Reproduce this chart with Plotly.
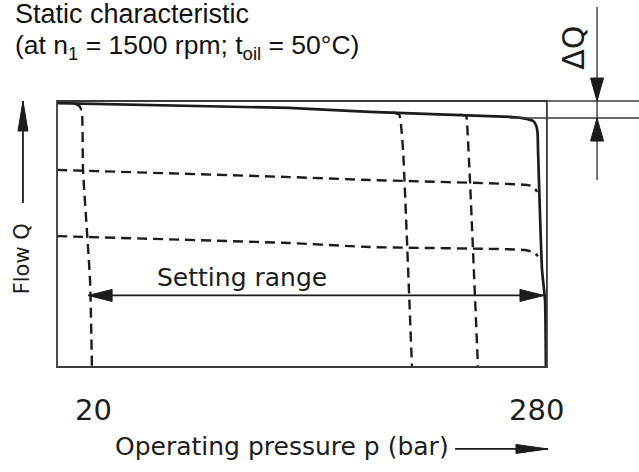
import plotly.graph_objects as go

# Axis ranges: pressure p in bar (x), flow Q in % of maximum (y)
X_RANGE = [-32.65, 333.33]
Y_RANGE = [-39.47, 137.97]

TITLE_LINE_1 = "Static characteristic"
TITLE_LINE_2 = "(at n<sub>1</sub> = 1500 rpm; t<sub>oil</sub> = 50°C)"
X_TICK_VALUES = [20, 280]
X_TICK_LABELS = ["20", "280"]
X_TITLE = "Operating pressure p (bar)"
Y_TITLE = "Flow Q"
DELTA_LABEL = "ΔQ"
RANGE_LABEL = "Setting range"

# Frame of the diagram
P_FRAME = [0, 280.6]
Q_FRAME = [0, 100.0]

# Full-flow characteristic with the pressure cut-off at 280 bar
p_main = [0, 133.0, 179.3, 259.5, 268.0, 272.6, 274.3, 275.2, 275.5, 277.8, 279.5, 280.0]
q_main = [99.2, 97.4, 95.9, 94.0, 93.4, 92.5, 91.0, 88.3, 81.6, 36.5, 25.2, 0]

# Lower pressure cut-off settings (dashed)
p_cut_20 = [10.0, 13.0, 14.3, 14.9, 18.9, 20.0]
q_cut_20 = [99.0, 98.0, 95.5, 74.1, 32.7, 0]
p_cut_203 = [192.4, 196.0, 196.8, 198.2, 203.3]
q_cut_203 = [95.7, 94.8, 92.5, 81.6, 0]
p_cut_241 = [230.8, 234.3, 234.8, 236.5, 241.1]
q_cut_241 = [94.9, 94.4, 92.1, 70.3, 0]

# Reduced flow settings (dashed)
p_flow_74 = [0, 133.4, 179.3, 269.8, 273.2, 274.9]
q_flow_74 = [74.1, 71.4, 70.3, 68.4, 67.7, 65.8]
p_flow_49 = [0, 133.4, 179.3, 268.0, 272.6, 275.5]
q_flow_49 = [49.2, 46.6, 45.1, 44.0, 43.2, 41.7]

# Setting range of the pressure controller
RANGE_P = [17.8, 278.9]
RANGE_Q = 26.9

# Flow difference between zero pressure and the 280 bar cut-off knee
DELTA_Q_TOP = 100.0
DELTA_Q_KNEE = 93.6
DELTA_P = 309.3
DELTA_LINE_Q = [70.3, 135.3]

# Axis-direction arrows
Y_ARROW_P = -19.5
Y_ARROW_Q = [61.7, 100.0]
X_ARROW_P = [228.0, 281.2]
X_ARROW_Q = -30.8

INK = "#1c1c1c"
FRAME_INK = "#3a3a3a"
TECH_FONT = "DejaVu Sans, sans-serif"
TITLE_FONT = "Liberation Sans, Arial, sans-serif"

fig = go.Figure()


def add_curve(px, qy, dashed=False, width=2.0, color=INK):
    fig.add_trace(go.Scatter(
        x=px, y=qy, mode="lines",
        line=dict(color=color, width=width, dash="10px,6px" if dashed else "solid",
                  shape="spline", smoothing=0.5),
        hoverinfo="skip", showlegend=False,
    ))


def add_head(p, q, direction, length, half):
    paths = {
        "left": f"M0,0 L{length},{half} L{length},{-half} Z",
        "right": f"M0,0 L{-length},{half} L{-length},{-half} Z",
        "down": f"M0,0 L{-half},{length} L{half},{length} Z",
        "up": f"M0,0 L{-half},{-length} L{half},{-length} Z",
    }
    fig.add_shape(type="path", xref="x", yref="y", xsizemode="pixel", ysizemode="pixel",
                  xanchor=p, yanchor=q, path=paths[direction],
                  fillcolor=INK, line=dict(color=INK, width=1))


def add_segment(x0, y0, x1, y1, width=1.4, color=FRAME_INK):
    fig.add_shape(type="line", xref="x", yref="y", x0=x0, y0=y0, x1=x1, y1=y1,
                  line=dict(color=color, width=width))


# frame and its extension to the right
fig.add_shape(type="rect", xref="x", yref="y",
              x0=P_FRAME[0], x1=P_FRAME[1], y0=Q_FRAME[0], y1=Q_FRAME[1],
              line=dict(color=FRAME_INK, width=1.8))
add_segment(P_FRAME[1], Q_FRAME[1], X_RANGE[1], Q_FRAME[1])
add_segment(p_main[3], DELTA_Q_KNEE, X_RANGE[1], DELTA_Q_KNEE)

# characteristic curves
for px, qy in [(p_cut_20, q_cut_20), (p_cut_203, q_cut_203), (p_cut_241, q_cut_241),
               (p_flow_74, q_flow_74), (p_flow_49, q_flow_49)]:
    add_curve(px, qy, dashed=True, width=2.4)
add_curve(p_main, q_main, width=2.7)

# setting range double arrow
add_segment(RANGE_P[0], RANGE_Q, RANGE_P[1], RANGE_Q, width=1.8, color=INK)
add_head(RANGE_P[0], RANGE_Q, "left", 24, 6)
add_head(RANGE_P[1], RANGE_Q, "right", 24, 6)

# delta Q dimension
add_segment(DELTA_P, DELTA_LINE_Q[0], DELTA_P, DELTA_LINE_Q[1], width=1.4)
add_head(DELTA_P, DELTA_Q_TOP, "down", 23, 6.5)
add_head(DELTA_P, DELTA_Q_KNEE, "up", 23, 6.5)

# axis direction arrows
add_segment(Y_ARROW_P, Y_ARROW_Q[0], Y_ARROW_P, Y_ARROW_Q[1], width=1.8, color=INK)
add_head(Y_ARROW_P, Y_ARROW_Q[1], "up", 30, 5)
add_segment(X_ARROW_P[0], X_ARROW_Q, X_ARROW_P[1], X_ARROW_Q, width=1.8, color=INK)
add_head(X_ARROW_P[1], X_ARROW_Q, "right", 32, 4.5)

# text
tech = dict(family=TECH_FONT, color=INK)
for val, lab, shift in zip(X_TICK_VALUES, X_TICK_LABELS, [2, -9]):
    fig.add_annotation(x=val, y=-16.2, xref="x", yref="y", text=lab, showarrow=False,
                       xshift=shift, font=dict(size=29, **tech))
fig.add_annotation(x=128.6, y=-30.0, xref="x", yref="y", text=X_TITLE, showarrow=False,
                   font=dict(size=25, **tech))
fig.add_annotation(x=106.2, y=33.8, xref="x", yref="y", text=RANGE_LABEL, showarrow=False,
                   font=dict(size=25, **tech))
fig.add_annotation(x=-20.0, y=40.5, xref="x", yref="y", text=Y_TITLE, showarrow=False,
                   textangle=-90, font=dict(size=21, **tech))
fig.add_annotation(x=296.1, y=120.0, xref="x", yref="y", text=DELTA_LABEL, showarrow=False,
                   textangle=-90, font=dict(size=30, **tech))

fig.add_annotation(x=13 / 639, y=1 - 14 / 472, xref="paper", yref="paper", xanchor="left",
                   yanchor="middle", text=TITLE_LINE_1, showarrow=False,
                   font=dict(family=TITLE_FONT, size=27, color="#111111"))
fig.add_annotation(x=13 / 639, y=1 - 47 / 472, xref="paper", yref="paper", xanchor="left",
                   yanchor="middle", text=TITLE_LINE_2, showarrow=False,
                   font=dict(family=TITLE_FONT, size=26.5, color="#111111"))

fig.update_layout(
    width=639, height=472,
    margin=dict(l=0, r=0, t=0, b=0),
    paper_bgcolor="white", plot_bgcolor="white",
    xaxis=dict(range=X_RANGE, visible=False, fixedrange=True),
    yaxis=dict(range=Y_RANGE, visible=False, fixedrange=True),
    showlegend=False,
)

fig.write_html("out.html")
